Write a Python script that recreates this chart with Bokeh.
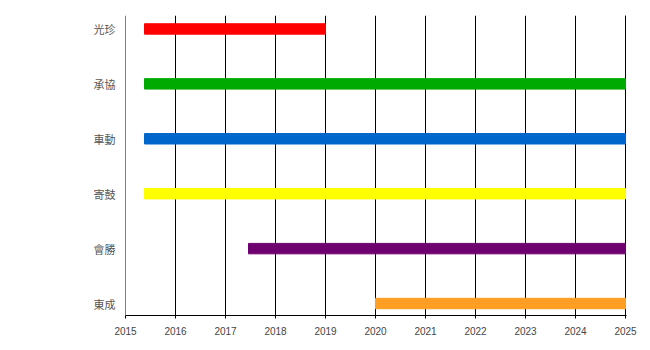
from bokeh.plotting import figure
from bokeh.models import Range1d, FixedTicker, ColumnDataSource, Span
from bokeh.embed import file_html
from bokeh.resources import INLINE

names = ["光珍", "承協", "車動", "寄鼓", "會勝", "東成"]
starts = [2015.38, 2015.38, 2015.38, 2015.38, 2017.46, 2020.0]
ends = [2019.0, 2025.0, 2025.0, 2025.0, 2025.0, 2025.0]
colors = ["#ff0000", "#00aa00", "#0066cc", "#ffff00", "#6f006f", "#ff9e22"]
years = list(range(2015, 2026))

n = len(names)
ypos = [n - 1 - i for i in range(n)]
src = ColumnDataSource(dict(y=ypos, left=starts, right=ends, color=colors))

p = figure(width=650, height=350, output_backend="svg", toolbar_location=None,
           x_range=Range1d(2015, 2025.02), y_range=Range1d(-0.218, 5.245),
           min_border_left=125, min_border_right=24, min_border_top=15, min_border_bottom=35)
p.outline_line_color = None
p.background_fill_color = "white"

# gridlines at the range ends (Bokeh's grid skips the boundaries)
for yr in (years[0], years[-1]):
    p.add_layout(Span(location=yr, dimension="height", line_color="black", line_width=1, level="underlay"))

p.hbar(y="y", left="left", right="right", height=0.19, color="color", source=src)

p.xaxis.ticker = FixedTicker(ticks=years)
p.xgrid.ticker = FixedTicker(ticks=years)
p.xgrid.grid_line_color = "black"
p.xgrid.grid_line_alpha = 1.0
p.xgrid.grid_line_width = 1
p.ygrid.grid_line_color = None
p.xaxis.axis_line_color = "black"
p.xaxis.major_tick_line_color = "black"
p.xaxis.major_tick_out = 3
p.xaxis.major_tick_in = 0
p.xaxis.minor_tick_line_color = None
p.xaxis.major_label_standoff = 8
p.xaxis.major_label_text_font = "Liberation Sans"
p.xaxis.major_label_text_font_size = "10px"
p.xaxis.major_label_text_color = "#444444"

p.yaxis.ticker = FixedTicker(ticks=ypos)
p.yaxis.major_label_overrides = {y: nm for y, nm in zip(ypos, names)}
p.yaxis.axis_line_color = None
p.yaxis.major_tick_line_color = None
p.yaxis.minor_tick_line_color = None
p.yaxis.major_tick_out = 0
p.yaxis.major_label_standoff = 10
p.yaxis.major_label_text_font = "Noto Sans CJK TC"
p.yaxis.major_label_text_font_size = "11px"
p.yaxis.major_label_text_color = "#555555"

open("out.html", "w").write(file_html(p, INLINE))
